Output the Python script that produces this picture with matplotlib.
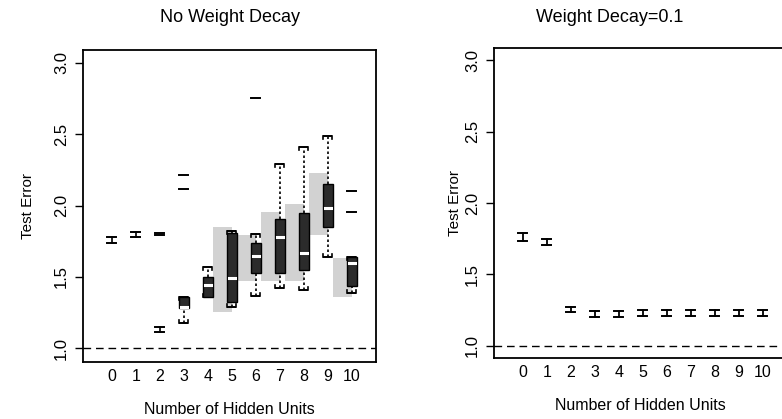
import matplotlib
matplotlib.use("Agg")
import matplotlib.pyplot as plt
from matplotlib.patches import Rectangle

# ---------------- data ----------------
units = list(range(11))
tick_labels = [str(u) for u in units]
y_ticks = [1.0, 1.5, 2.0, 2.5, 3.0]
bayes_error = 1.0

# left panel: No Weight Decay (None = not drawn)
left_q1 = [None, None, None, 1.28, 1.36, 1.325, 1.523, 1.528, 1.547, 1.85, 1.435]
left_q3 = [None, None, None, 1.36, 1.496, 1.81, 1.734, 1.905, 1.95, 2.148, 1.64]
left_median = [None, None, None, 1.29, 1.44, 1.493, 1.645, 1.78, 1.664, 1.979, 1.594]
left_whisk_lo = [1.734, 1.776, 1.115, 1.175, 1.36, 1.29, 1.365, 1.419, 1.407, 1.64, 1.388]
left_whisk_hi = [1.776, 1.811, 1.150, 1.36, 1.57, 1.823, 1.80, 2.29, 2.41, 2.487, 1.64]
left_outliers = [[], [], [1.806, 1.792], [2.213, 2.115], [], [], [2.751], [], [], [], [2.103, 1.956]]
left_band_lo = [None, None, None, None, None, 1.255, 1.47, 1.47, 1.47, 1.79, 1.36]
left_band_hi = [None, None, None, None, None, 1.85, 1.79, 1.955, 2.01, 2.23, 1.63]

# right panel: Weight Decay = 0.1
right_lo = [1.737, 1.705, 1.235, 1.205, 1.205, 1.21, 1.21, 1.21, 1.21, 1.21, 1.21]
right_hi = [1.787, 1.750, 1.270, 1.245, 1.245, 1.25, 1.25, 1.25, 1.25, 1.25, 1.25]

# ---------------- style ----------------
W, H = 782, 419
fig = plt.figure(figsize=(W / 100, H / 100), dpi=100)
narrow = ['Liberation Sans Narrow', 'Liberation Sans', 'DejaVu Sans']
regular = ['Liberation Sans', 'DejaVu Sans']

box_w = 0.40
cap_w = 0.36
box_color = '#2b2b2b'
band_color = '#d2d2d2'
AX_W = 12.2 * 24 / W


def cap(ax, x, y, direction):
    # bracket-like cap: horizontal segment with small ticks toward the box
    ax.plot([x - cap_w / 2, x + cap_w / 2], [y, y], color='black', lw=1.4,
            solid_capstyle='butt', zorder=5)
    d = 0.02 * direction
    for xx in (x - cap_w / 2, x + cap_w / 2):
        ax.plot([xx, xx], [y, y + d], color='black', lw=1.2, zorder=5)


def setup(ax, ylim, ylabel_px_from_axis):
    ax.set_xlim(-1.2, 11.0)
    ax.set_ylim(*ylim)
    ax.set_xticks(units)
    ax.set_xticklabels(tick_labels, family=narrow, fontsize=11.5)
    ax.set_yticks(y_ticks)
    ax.set_yticklabels([f"{v:.1f}" for v in y_ticks], family=regular,
                       fontsize=12, rotation=90, va='center')
    ax.tick_params(axis='x', length=0, pad=5)
    ax.tick_params(axis='y', length=6, width=1.0, pad=4)
    for s in ax.spines.values():
        s.set_linewidth(1.3)
    ax.axhline(bayes_error, color='black', lw=1.0, ls=(0, (5.5, 3.5)), zorder=2)
    ax.set_xlabel("Number of Hidden Units", family=narrow, fontsize=11.5, labelpad=13)
    ax.set_ylabel("Test Error", family=regular, fontsize=11)
    ax.yaxis.set_label_coords(-ylabel_px_from_axis / (AX_W * W), 0.5)


# left axes
axL = fig.add_axes([83 / W, 1 - 362 / H, AX_W, 312 / H])
setup(axL, (0.902, 3.091), 83 - 35)
# right axes (extends past the figure's right edge, as in the reference)
axR = fig.add_axes([494 / W, 1 - 358 / H, AX_W, 309.7 / H])
setup(axR, (0.916, 3.082), 494 - 462)

# ---- left panel marks ----
for i, u in enumerate(units):
    if left_band_lo[i] is not None:
        axL.add_patch(Rectangle((u - 0.8, left_band_lo[i]), 0.8,
                                left_band_hi[i] - left_band_lo[i],
                                facecolor=band_color, edgecolor='none', zorder=1))
    lo, hi = left_whisk_lo[i], left_whisk_hi[i]
    if left_q1[i] is None:
        axL.plot([u, u], [lo, hi], color='black', lw=1.2, zorder=5)
        for y in (lo, hi):
            axL.plot([u - cap_w / 2, u + cap_w / 2], [y, y], color='black',
                     lw=1.4, zorder=5)
    else:
        q1, q3 = left_q1[i], left_q3[i]
        if lo < q1:
            axL.plot([u, u], [lo, q1], color='black', lw=1.2, ls=(0, (1.5, 1.5)), zorder=4)
        if hi > q3:
            axL.plot([u, u], [q3, hi], color='black', lw=1.2, ls=(0, (1.5, 1.5)), zorder=4)
        cap(axL, u, lo, +1)
        cap(axL, u, hi, -1)
        axL.add_patch(Rectangle((u - box_w / 2, q1), box_w, q3 - q1,
                                facecolor=box_color, edgecolor='black', lw=1.0, zorder=6))
        m = left_median[i]
        axL.plot([u - box_w * 0.3, u + box_w * 0.3], [m, m], color='white',
                 lw=2.2, zorder=7)
    for o in left_outliers[i]:
        axL.plot([u - cap_w / 2, u + cap_w / 2], [o, o], color='black', lw=1.4, zorder=5)

# ---- right panel marks ----
for i, u in enumerate(units):
    lo, hi = right_lo[i], right_hi[i]
    axR.plot([u, u], [lo, hi], color='black', lw=1.3, zorder=5)
    for y in (lo, hi):
        axR.plot([u - cap_w / 2, u + cap_w / 2], [y, y], color='black', lw=1.4, zorder=5)

# titles
fig.text(230 / W, 1 - 18 / H, "No Weight Decay", family=regular, fontsize=13,
         ha='center', va='center')
fig.text(610 / W, 1 - 18 / H, "Weight Decay=0.1", family=regular, fontsize=13,
         ha='center', va='center')

fig.savefig("out.png", dpi=100)
